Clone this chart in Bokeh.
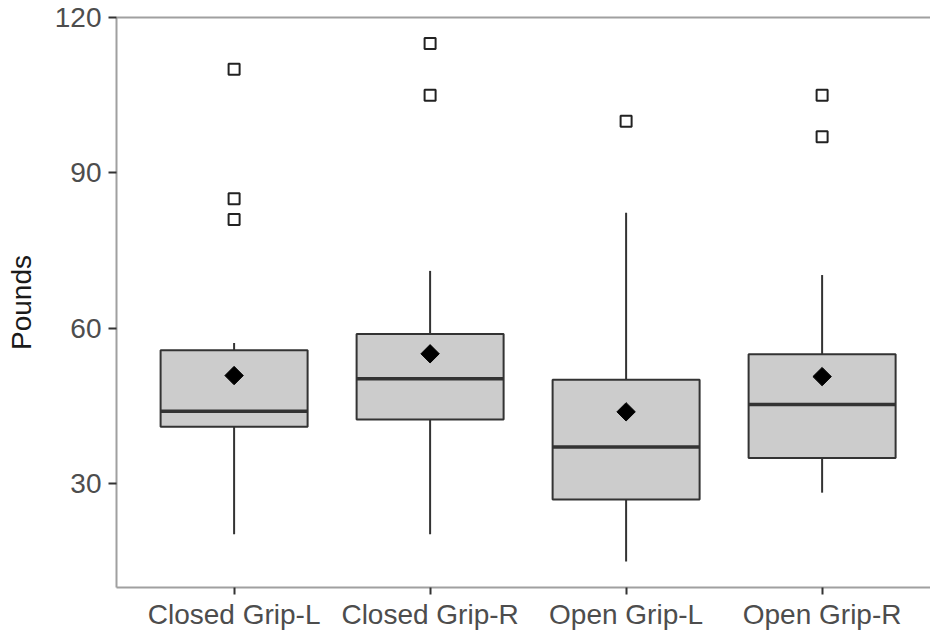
import numpy as np
from bokeh.plotting import figure
from bokeh.models import (ColumnDataSource, FixedTicker, LinearAxis, Range1d)
from bokeh.embed import file_html
from bokeh.resources import INLINE

# ---- data ----
categories = ["Closed Grip-L", "Closed Grip-R", "Open Grip-L", "Open Grip-R"]
q1 = [41.0, 42.4, 27.0, 35.0]
median = [44.0, 50.3, 37.1, 45.3]
q3 = [55.8, 58.9, 50.1, 55.0]
whisker_low = [20.3, 20.3, 15.0, 28.3]
whisker_high = [57.2, 71.1, 82.3, 70.3]
means = [50.9, 55.1, 43.9, 50.7]
outliers = [[110.0, 85.0, 81.0], [115.0, 105.0], [100.0], [105.0, 97.0]]
y_ticks = [30, 60, 90, 120]
y_minor = [15, 45, 75, 105]

BOX_W = 0.75
FONT = "Liberation Sans"

xs = list(range(1, len(categories) + 1))
src = ColumnDataSource(dict(
    x=xs, q1=q1, med=median, q3=q3, lo=whisker_low, hi=whisker_high, mean=means,
    x0=[x - BOX_W / 2 for x in xs], x1=[x + BOX_W / 2 for x in xs],
))
ox, oy = [], []
for x, vals in zip(xs, outliers):
    for v in vals:
        ox.append(x)
        oy.append(v)
osrc = ColumnDataSource(dict(x=ox, y=oy))

p = figure(width=930, height=634, output_backend="svg", toolbar_location=None,
           x_range=Range1d(0.4, 4.553), y_range=Range1d(10, 120),
           x_axis_type=None, y_axis_type=None,
           min_border_left=116, min_border_right=0, min_border_top=17, min_border_bottom=47)
p.outline_line_color = None
p.background_fill_color = "white"
p.border_fill_color = "white"

# axes
xaxis = LinearAxis(ticker=FixedTicker(ticks=xs),
                   major_label_overrides={x: c for x, c in zip(xs, categories)})
yaxis = LinearAxis(ticker=FixedTicker(ticks=y_ticks, minor_ticks=y_minor), axis_label="Pounds")
top = LinearAxis(ticker=FixedTicker(ticks=[]), major_label_standoff=0,
                 major_tick_out=0, minor_tick_out=0, major_tick_in=0, minor_tick_in=0)
p.add_layout(xaxis, "below")
p.add_layout(yaxis, "left")
p.add_layout(top, "above")

for ax in (xaxis, yaxis, top):
    ax.axis_line_color = "#A0A0A0"
    ax.axis_line_width = 2
    ax.major_tick_line_color = "#333333"
    ax.major_tick_line_width = 2
    ax.major_tick_in = 0
    ax.minor_tick_in = 0
    ax.minor_tick_out = 0
    ax.major_label_text_font = FONT
    ax.major_label_text_font_size = "28px"
    ax.major_label_text_color = "#4D4D4D"
top.major_label_text_font_size = "0px"

xaxis.major_tick_out = 7
xaxis.major_label_standoff = 4
yaxis.major_tick_out = 8
yaxis.major_label_standoff = 7
yaxis.axis_label_text_font = FONT
yaxis.axis_label_text_font_size = "28px"
yaxis.axis_label_text_font_style = "normal"
yaxis.axis_label_text_color = "#1A1A1A"
yaxis.axis_label_standoff = 15

# grids
p.xgrid.ticker = xaxis.ticker
p.ygrid.ticker = yaxis.ticker
p.xgrid.grid_line_color = "#EBEBEB"
p.xgrid.grid_line_width = 2
p.ygrid.grid_line_color = "#EBEBEB"
p.ygrid.grid_line_width = 2
p.ygrid.minor_grid_line_color = "#F5F5F5"
p.ygrid.minor_grid_line_width = 1.5

# whiskers
p.segment(x0="x", y0="q3", x1="x", y1="hi", source=src, line_color="#333333", line_width=2)
p.segment(x0="x", y0="q1", x1="x", y1="lo", source=src, line_color="#333333", line_width=2)
# boxes
p.vbar(x="x", width=BOX_W, bottom="q1", top="q3", source=src,
       fill_color="#CCCCCC", line_color="#333333", line_width=2)
# medians
p.segment(x0="x0", y0="med", x1="x1", y1="med", source=src, line_color="#333333", line_width=3.5)
# outliers
p.scatter(x="x", y="y", source=osrc, marker="square", size=11, fill_color=None,
          line_color="#222222", line_width=2)
# means
p.scatter(x="x", y="mean", source=src, marker="square", angle=np.pi / 4, size=13,
          fill_color="black", line_color="black")

open("out.html", "w").write(file_html(p, INLINE))
